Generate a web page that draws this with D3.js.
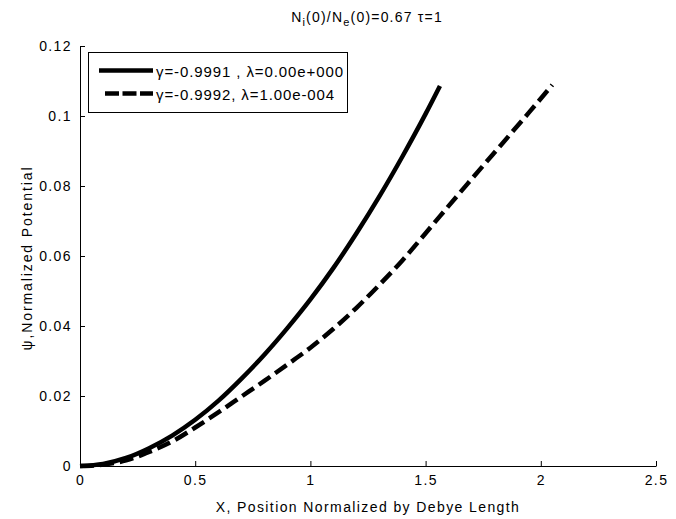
<!DOCTYPE html>
<html><head><meta charset="utf-8">
<script src="https://cdn.jsdelivr.net/npm/d3@7"></script>
<style>body{margin:0;background:#fff}svg{display:block}text{font-family:"Liberation Sans",Arial,sans-serif;fill:#000}</style>
</head><body><svg id="c" width="676" height="519"></svg>
<script>
const xTicks = [0, 0.5, 1, 1.5, 2, 2.5];
const yTicks = [0, 0.02, 0.04, 0.06, 0.08, 0.1, 0.12];
const seriesNames = ["γ=-0.9991 , λ=0.00e+000", "γ=-0.9992, λ=1.00e-004"];
const solidX = [0, 0.1, 0.2, 0.3, 0.4, 0.5, 0.6, 0.7, 0.8, 0.9, 1.0, 1.1, 1.2, 1.3, 1.4, 1.5, 1.5625];
const solidY = [0, 0.0006, 0.0023, 0.0051, 0.0087, 0.0132, 0.0186, 0.0249, 0.0318, 0.0394, 0.0476, 0.0566, 0.0665, 0.0771, 0.0885, 0.1006, 0.1086];
const dashX = [0, 0.1, 0.2, 0.3, 0.4, 0.5, 0.6, 0.7, 0.8, 0.9, 1.0, 1.1, 1.2, 1.3, 1.4, 1.5, 1.5625, 1.7, 1.823, 1.95, 2.05];
const dashY = [0, 0.0004, 0.0016, 0.0040, 0.0070, 0.0110, 0.0153, 0.0198, 0.0243, 0.0290, 0.0338, 0.0392, 0.0452, 0.0518, 0.0588, 0.0665, 0.0714, 0.0820, 0.0914, 0.1011, 0.1089];

const svg = d3.select("#c");
const L = 80, R = 656, T = 46, B = 466;
const x = d3.scaleLinear().domain([0, 2.5]).range([L, R]);
const y = d3.scaleLinear().domain([0, 0.12]).range([B, T]);
const LS = "1.4px";

// axes
const xa = svg.append("g").attr("transform", `translate(0,${B})`)
  .call(d3.axisBottom(x).tickValues(xTicks).tickSizeInner(-5).tickSizeOuter(0).tickPadding(9).tickFormat(d3.format("")));
const ya = svg.append("g").attr("transform", `translate(${L},0)`)
  .call(d3.axisLeft(y).tickValues(yTicks).tickSizeInner(-5).tickSizeOuter(0).tickPadding(8).tickFormat(d3.format("")));
[xa, ya].forEach(a => {
  a.selectAll("path").attr("stroke", "#000").attr("stroke-width", 1);
  a.selectAll("line").attr("stroke", "#000");
  a.selectAll("text").style("font-size", "14px").style("letter-spacing", LS).attr("fill", "#000");
});

const line = d3.line().x(d => x(d[0])).y(d => y(d[1])).curve(d3.curveMonotoneX);
svg.append("path").datum(solidX.map((v, i) => [v, solidY[i]]))
  .attr("d", line).attr("fill", "none").attr("stroke", "#000").attr("stroke-width", 4.5);
svg.append("path").datum(dashX.map((v, i) => [v, dashY[i]]))
  .attr("d", line).attr("fill", "none").attr("stroke", "#000").attr("stroke-width", 4.5)
  .attr("stroke-dasharray", "14,6");

// title
const t = svg.append("text").attr("x", 367).attr("y", 22).attr("text-anchor", "middle")
  .style("font-size", "14px").style("letter-spacing", "1.2px");
t.append("tspan").text("N");
t.append("tspan").text("i").attr("dy", 4).style("font-size", "11px");
t.append("tspan").text("(0)/N").attr("dy", -4);
t.append("tspan").text("e").attr("dy", 4).style("font-size", "11px");
t.append("tspan").text("(0)=0.67 τ=1").attr("dy", -4);

// axis labels
svg.append("text").attr("x", 368).attr("y", 512).attr("text-anchor", "middle")
  .style("font-size", "14px").style("letter-spacing", LS)
  .text("X, Position Normalized by Debye Length");
svg.append("text").attr("transform", "translate(32,258) rotate(-90)").attr("text-anchor", "middle")
  .style("font-size", "14px").style("letter-spacing", "1.9px")
  .text("ψ,Normalized Potential");

// legend
const lg = svg.append("g");
lg.append("rect").attr("x", 88.5).attr("y", 52.5).attr("width", 259).attr("height", 60)
  .attr("fill", "#fff").attr("stroke", "#000").attr("stroke-width", 1);
seriesNames.forEach((n, i) => {
  const yy = 71 + i * 23;
  lg.append("line").attr("x1", i ? 105 : 99).attr("x2", 153).attr("y1", yy - 0.5).attr("y2", yy - 0.5)
    .attr("stroke", "#000").attr("stroke-width", 4.5).attr("stroke-dasharray", i ? "14,3.5" : null);
  lg.append("text").attr("x", 156).attr("y", yy + 5.5).style("font-size", "15px").style("letter-spacing", "0.9px").text(n);
});
</script></body></html>
